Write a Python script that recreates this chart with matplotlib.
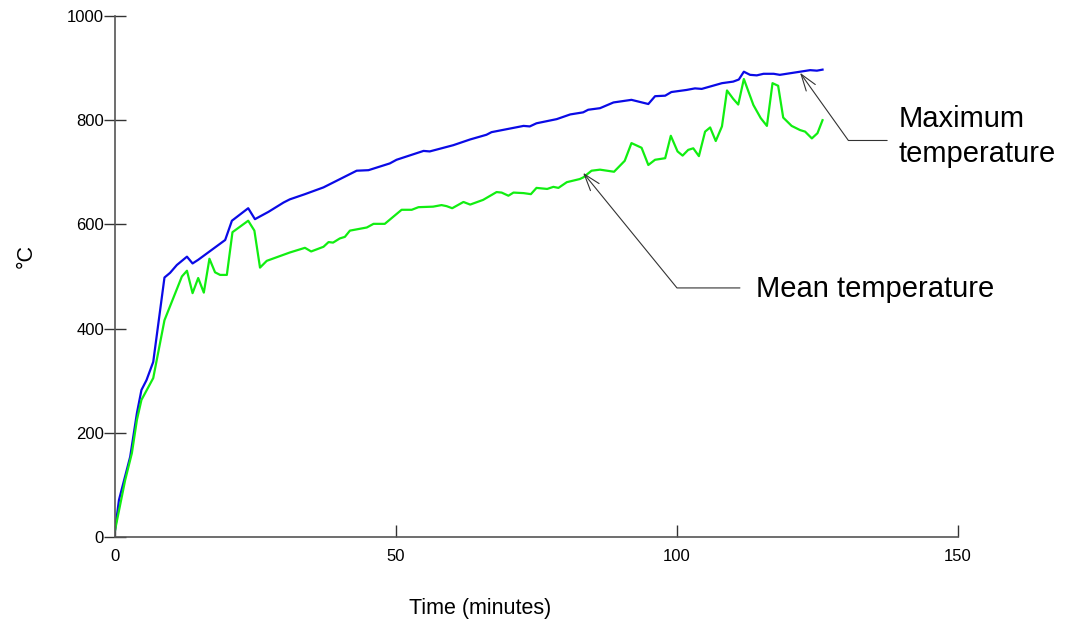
import numpy as np
import matplotlib
matplotlib.use("Agg")
import matplotlib.pyplot as plt

# ---------- data ----------
time_max = [0, 0.7, 2.7, 3.9, 4.7, 5.6, 6.8, 8.8, 9.8, 11, 12.8, 13.8, 14.8,
            17.2, 19.6, 20.8, 23.7, 24.9, 27.3, 30, 31.1, 33.8, 37.1, 43, 45.1,
            48.9, 50.1, 54.9, 56, 60.2, 63.2, 66.1, 67, 72.7, 73.8, 75, 78.6,
            81, 83.3, 84.2, 86.3, 88.7, 91.9, 94.9, 96.1, 97.9, 99, 101.7,
            103.2, 104.4, 108, 110, 111, 111.9, 113, 114.2, 115.4, 117.2,
            118.3, 121.9, 123.7, 124.9, 125.9]
temp_max = [13, 71, 154, 238, 282, 301, 336, 498, 507, 522, 538, 525, 532,
            551, 570, 607, 631, 610, 624, 642, 648, 658, 671, 703, 704,
            717, 724, 741, 740, 752, 763, 772, 777, 789, 788, 794, 802,
            811, 815, 820, 823, 834, 839, 831, 846, 847, 854, 858,
            861, 860, 871, 874, 878, 893, 887, 886, 889, 889,
            887, 893, 896, 895, 897]

time_mean = [0, 1.8, 3, 3.9, 4.7, 6.8, 8.8, 11.9, 12.8, 13.8, 14.8, 15.8, 16.8,
             17.8, 18.7, 19.9, 20.9, 23.7, 24.8, 25.8, 27, 31.1, 33.8, 34.9,
             37.1, 38, 38.8, 40, 40.9, 41.8, 44.8, 46, 48, 51, 52.8, 54, 56.6,
             58.1, 59, 60, 62, 63.2, 65.5, 67.9, 68.8, 70, 70.9, 72.7, 74, 75,
             76.9, 78, 78.9, 80.4, 82.7, 83.3, 84.8, 86.3, 88.8, 90.7, 91.9,
             93.7, 94.9, 96.1, 97.9, 98.9, 100.1, 101, 102, 102.9, 103.9, 105,
             105.9, 106.9, 108, 108.9, 110, 110.9, 111.9, 113.6, 114.9, 116,
             117, 118, 118.9, 120.4, 121.9, 122.8, 124, 125, 125.9]
temp_mean = [13, 109, 161, 225, 263, 305, 416, 500, 511, 468, 497, 469, 534,
             508, 503, 503, 585, 607, 588, 517, 530, 546, 555, 548,
             557, 566, 565, 573, 576, 588, 594, 601, 601, 628, 628, 633, 634,
             637, 635, 631, 643, 638, 647, 662, 661, 655, 661, 660, 658, 670,
             668, 672, 670, 681, 687, 690, 703, 705, 701, 722, 756,
             747, 714, 724, 727, 770, 740, 732, 743, 746, 731, 778,
             786, 760, 788, 857, 841, 830, 879, 829, 804, 789,
             871, 866, 805, 789, 781, 778, 765, 775, 800]

x_ticks = [0, 50, 100, 150]
y_ticks = [0, 200, 400, 600, 800, 1000]

plt.rcParams["font.family"] = ["Liberation Sans", "DejaVu Sans"]

fig = plt.figure(figsize=(10.65, 6.26), dpi=100)
ax = fig.add_axes([0.108, 0.1422, 0.7915, 0.8323])

ax.plot(time_max, temp_max, color="#0a0ae6", lw=1.6)
ax.plot(time_mean, temp_mean, color="#11ee11", lw=1.6)

ax.set_xlim(0, 150)
ax.set_ylim(0, 1000)
ax.set_xticks(x_ticks)
ax.set_yticks(y_ticks)

for s in ("top", "right"):
    ax.spines[s].set_visible(False)
for s in ("left", "bottom"):
    ax.spines[s].set_color("#555555")
    ax.spines[s].set_linewidth(1.2)

ax.tick_params(axis="y", direction="inout", length=16, width=1, color="#333333",
               labelsize=12, pad=0)
ax.tick_params(axis="x", direction="in", length=9, width=1, color="#333333",
               labelsize=12, pad=9)

ax.set_xlabel("Time (minutes)", fontsize=15.5)
ax.xaxis.set_label_coords(0.433, -0.118)
ax.set_ylabel("°C", fontsize=15.5)
ax.yaxis.set_label_coords(-0.093, 0.54)


def angle_between(p_from, p_to):
    a = ax.transData.transform(p_from)
    b = ax.transData.transform(p_to)
    return np.degrees(np.arctan2(b[1] - a[1], b[0] - a[0]))


arrow_kw = dict(arrowstyle="->,head_length=0.6,head_width=0.2",
                color="#333333", lw=0.8, shrinkA=0, shrinkB=0,
                mutation_scale=20)

# Mean temperature label
tip, knee, end = (83.3, 699), (100.0, 478), (111.2, 478)
ax.annotate("", xy=tip, xytext=end,
            arrowprops=dict(connectionstyle="angle,angleA=0,angleB=%.2f,rad=0"
                            % angle_between(tip, knee), **arrow_kw))
ax.text(114.0, 476, "Mean temperature", fontsize=21, ha="left", va="center")

# Maximum temperature label
tip, knee, end = (121.9, 891), (130.5, 761), (137.4, 761)
ax.annotate("", xy=tip, xytext=end,
            arrowprops=dict(connectionstyle="angle,angleA=0,angleB=%.2f,rad=0"
                            % angle_between(tip, knee), **arrow_kw))
ax.text(139.4, 769, "Maximum\ntemperature", fontsize=21, ha="left", va="center",
        linespacing=1.3)

fig.savefig("out.png", dpi=100)
